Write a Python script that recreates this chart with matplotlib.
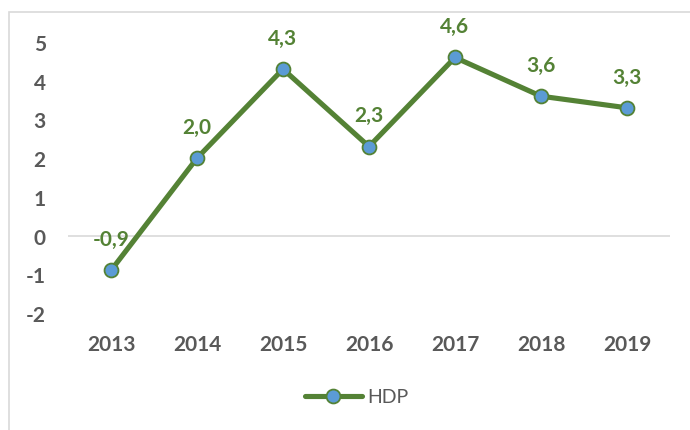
import matplotlib
matplotlib.use("Agg")
import matplotlib.pyplot as plt
from matplotlib.patches import Rectangle

years = ["2013", "2014", "2015", "2016", "2017", "2018", "2019"]
hdp = [-0.9, 2.0, 4.3, 2.3, 4.6, 3.6, 3.3]
yticks = [-2, -1, 0, 1, 2, 3, 4, 5]
series_name = "HDP"

green = "#548235"
blue = "#5B9BD5"
grey = "#595959"
font = ["Lato", "DejaVu Sans"]

fig = plt.figure(figsize=(6.9, 4.31), dpi=100)
ax = fig.add_axes([68/690, 1-314/431, (670-68)/690, (314-43)/431])

x = list(range(len(years)))
ax.plot(x, hdp, color=green, lw=3.7, marker="o", markersize=10,
        markerfacecolor=blue, markeredgecolor=green, markeredgewidth=1.3,
        label=series_name, solid_capstyle="round", zorder=3)

for xi, v in zip(x, hdp):
    ax.annotate(f"{v:.1f}".replace(".", ","), (xi, v), xytext=(0, 22.5),
                textcoords="offset points", ha="center", va="center",
                color=green, fontsize=15, fontweight="bold", family=font)

ax.axhline(0, color="#D9D9D9", lw=1.2, zorder=1)
ax.set_xlim(-0.5, len(years) - 0.5)
ax.set_ylim(-2, 5)
ax.set_yticks(yticks)
ax.set_yticklabels([str(t) for t in yticks])
ax.set_xticks(x)
ax.set_xticklabels(years)
for lab in ax.get_xticklabels() + ax.get_yticklabels():
    lab.set_fontweight("bold")
    lab.set_fontsize(15)
    lab.set_color(grey)
    lab.set_family(font)
ax.tick_params(axis="both", length=0)
ax.tick_params(axis="y", pad=16)
ax.tick_params(axis="x", pad=15)
for s in ax.spines.values():
    s.set_visible(False)

leg = fig.legend(loc="center", bbox_to_anchor=(357/690, 1-398/431), frameon=False,
                 prop={"family": font, "size": 14}, handlelength=2.9,
                 handletextpad=0.3)
for t in leg.get_texts():
    t.set_color(grey)

fig.patches.append(Rectangle((9/690, -0.01), 1.0, (431-13)/431 + 0.01,
                             transform=fig.transFigure, fill=False,
                             edgecolor="#D9D9D9", lw=1.2))

fig.savefig("out.png", dpi=100)
